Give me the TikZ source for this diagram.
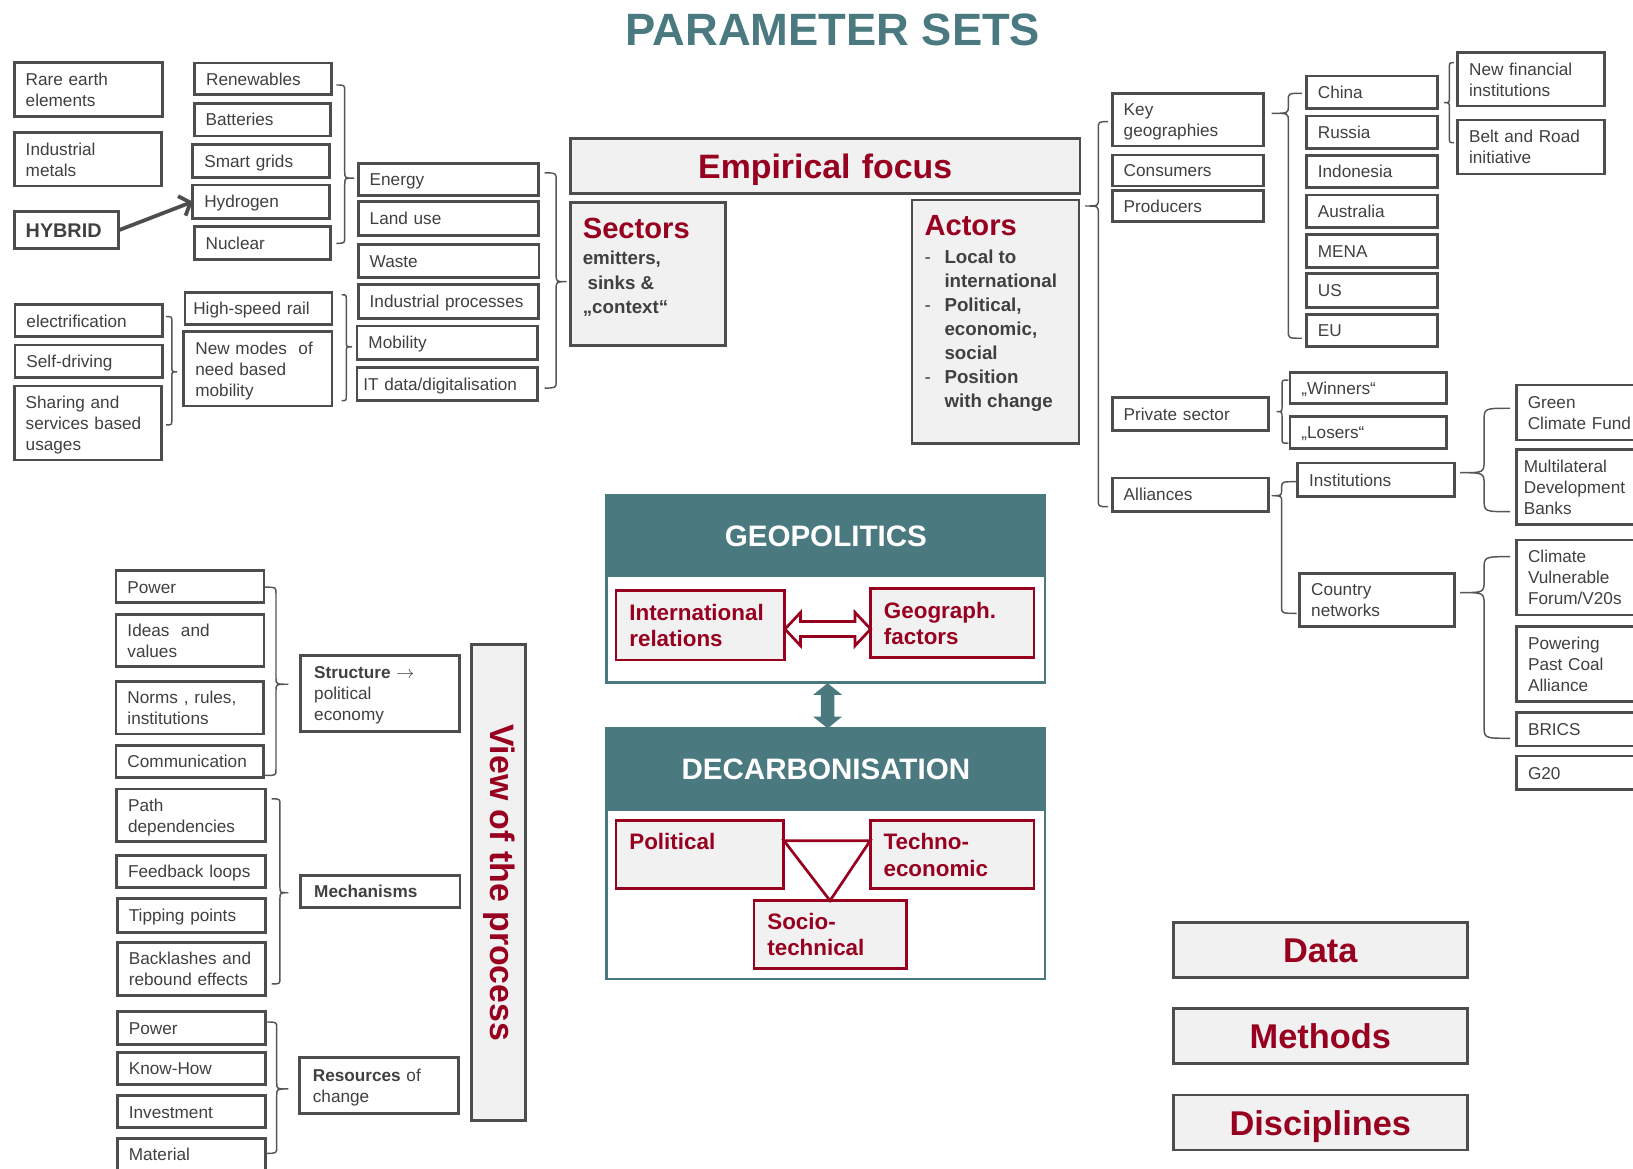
\documentclass[tikz,border=0pt]{standalone}
\usepackage{fontspec}
\setmainfont{Liberation Sans}
\usetikzlibrary{arrows.meta,calc}

\definecolor{dred}{RGB}{152,0,32}
\definecolor{tealc}{RGB}{74,121,128}
\definecolor{boxline}{RGB}{77,77,77}
\definecolor{txtc}{RGB}{64,64,64}
\definecolor{panelc}{RGB}{241,241,241}
\definecolor{bracec}{RGB}{85,85,85}

% horizontal text padding of a box
\newcommand\gbpad{11}
% fixed line height and depth, so every box places its text the same way
\newcommand\gbtop{\rule{0pt}{0.97em}}
\newcommand\gbbot{\rule[-0.24em]{0pt}{0.24em}}
% box given by its corners: [options]{name}{x1}{y1}{x2}{y2}{text}
\newcommand{\gb}[7][]{%
  \pgfmathsetmacro\gbt{#5-#3-2*\gbpad}%
  \pgfmathsetmacro\gbh{#6-#4}%
  \node[gbox,align=left,inner xsep=\gbpad pt,text width=\gbt pt,minimum height=\gbh pt,#1]
    (#2) at ({(#3+#5)/2},{(#4+#6)/2}) {\gbtop#7\gbbot};}
% curly brace: {x open ends}{x spine}{x tip}{y top}{y tip}{y bottom}{corner radius}
\newcommand{\gbrace}[7]{%
  \draw[bracel] (#1,#4) .. controls (#2,#4) .. (#2,{#4+#7}) -- (#2,{#5-#7})
    .. controls (#2,#5) .. (#3,#5) .. controls (#2,#5) .. (#2,{#5+#7})
    -- (#2,{#6-#7}) .. controls (#2,#6) .. (#1,#6);}

\begin{document}
\begin{tikzpicture}[x=1pt,y=-1pt,
  gbox/.style={rectangle,draw=boxline,line width=2.8pt,fill=white,text=txtc,
    font=\fontsize{16.5}{20.2}\selectfont,inner ysep=0pt,outer sep=0pt},
  pbox/.style={gbox,fill=panelc},
  rbox/.style={gbox,draw=dred,fill=panelc,text=dred,
    font=\bfseries\fontsize{21.5}{25.6}\selectfont},
  bigred/.style={pbox,align=center,text=dred,font=\bfseries\fontsize{33}{36}\selectfont},
  bracel/.style={draw=bracec,line width=1.4pt},
  blk/.style={rectangle,draw=tealc,line width=2.6pt,fill=white,inner sep=0pt,outer sep=0pt},
  hdr/.style={rectangle,fill=tealc,text=white,inner sep=0pt,outer sep=0pt,
    font=\bfseries\fontsize{28.4}{30}\selectfont},
  hyarrow/.style={draw=boxline,line width=3.6pt,-{Straight Barb[length=9pt,width=20pt]}},
  tri/.style={draw=dred,line width=2.6pt,line join=miter},
]
\useasboundingbox (0,0) rectangle (1568,1122);
\clip (0,0) rectangle (1568,1122);

% ---------- title ----------
\node[anchor=base,text=tealc,inner sep=0pt,font=\bfseries\fontsize{43.5}{46}\selectfont]
  (title) at (799.8,43.8) {PARAMETER SETS};

% ---------- sectors: energy, materials, mobility ----------
\gb{rare}{13.7}{60.2}{156}{112}{Rare earth\\elements}
\gb{indmet}{13.7}{127.4}{155}{178.6}{Industrial\\metals}
\gb[font=\bfseries\fontsize{19}{22}\selectfont]{hybrid}{13.7}{203.2}{113.9}{239}{HYBRID}
\gb{renew}{187}{60.5}{318.5}{91}{Renewables}
\gb{batt}{186.5}{99.2}{317}{130.6}{Batteries}
\gb{smart}{185.2}{138.6}{316.2}{170.6}{Smart grids}
\gb{hydro}{185.2}{177.6}{316.2}{209.6}{Hydrogen}
\gb{nuc}{186.5}{217.6}{317}{249}{Nuclear}

\gb{energy}{344}{157}{517}{187.5}{Energy}
\gb{land}{344}{193.6}{517}{226.3}{Land use}
\gb{waste}{344}{235.2}{517.5}{266.6}{Waste}
\gb{indproc}{344}{273.6}{517}{305.6}{Industrial processes}
\gb{mob}{342.8}{313}{516}{345}{Mobility}
\begin{scope}
  \def\gbpad{6}
  \gb{itdata}{342.8}{352.7}{516}{384.7}{IT data/digitalisation}
\end{scope}

\gb{elec}{14.4}{292.8}{156}{323.3}{electrification}
\gb{selfdr}{14.4}{331.3}{156}{362.6}{Self-driving}
\gb{sharing}{13.7}{370.6}{155.5}{441.7}{Sharing and\\services based\\usages}
\begin{scope}
  \def\gbpad{8}
  \gb{hsr}{177.6}{281}{318.8}{311.4}{High-speed rail}
\end{scope}
\gb{newmodes}{176.6}{318.5}{318.8}{389.8}{New modes~ of\\need based\\mobility}

\draw[hyarrow] (hybrid.east) -- (hydro.west);

\gbrace{323}{331}{340}{81.6}{171}{233.6}{6}
\gbrace{523}{534}{544}{166}{270.5}{372.6}{7}
\gbrace{159.5}{165}{170}{304}{357}{408}{5}
\gbrace{328}{332.5}{338}{283}{333}{384.7}{5}

% ---------- empirical focus ----------
\gb[pbox,align=center,text=dred,font=\bfseries\fontsize{32.5}{34}\selectfont]
  {empir}{547.6}{132.8}{1037}{185.6}{Empirical focus}

\node[pbox,anchor=north west,inner xsep=12pt,inner ysep=0pt,
  font=\bfseries\fontsize{18}{23.3}\selectfont] (sectors) at (547.6,194.6)
  {\parbox[c][137.4pt][t]{125.4pt}{\raggedright\leavevmode
    {\color{dred}\fontsize{28}{28}\selectfont\rule{0pt}{34.2pt}Sectors}\\[2.3pt]
    emitters,\\
    \hspace*{4.6pt}sinks \&\\
    „context“}};

\node[pbox,anchor=north west,inner xsep=12pt,inner ysep=0pt,
  font=\bfseries\fontsize{18}{23.1}\selectfont] (actors) at (875.7,192)
  {\parbox[c][233.6pt][t]{136.3pt}{\raggedright\leavevmode
    {\color{dred}\fontsize{28}{28}\selectfont\rule{0pt}{34.6pt}Actors}\\[3.1pt]
    \makebox[19.2pt][l]{\mdseries -}Local to\\
    \hspace*{19.2pt}international\\
    \makebox[19.2pt][l]{\mdseries -}Political,\\
    \hspace*{19.2pt}economic,\\
    \hspace*{19.2pt}social\\
    \makebox[19.2pt][l]{\mdseries -}Position\\
    \hspace*{19.2pt}with change}};

% ---------- actors ----------
\gb{keygeo}{1068}{89.6}{1213.6}{140.2}{Key\\geographies}
\gb{cons}{1068}{148.8}{1213.6}{178.6}{Consumers}
\gb{prod}{1068}{183}{1213.6}{212.8}{Producers}
\gb{priv}{1068}{382}{1218}{413}{Private sector}
\gb{alli}{1068}{459}{1218}{491}{Alliances}

\gb{china}{1254.4}{73}{1380.7}{104}{China}
\gb{russia}{1254.4}{111.4}{1380.7}{143}{Russia}
\gb{indo}{1254.4}{149.1}{1380.7}{180.2}{Indonesia}
\gb{austr}{1254.4}{187.2}{1380.7}{218.6}{Australia}
\gb{mena}{1254.4}{225}{1380.7}{256.7}{MENA}
\gb{us}{1254.4}{263}{1380.7}{295}{US}
\gb{eu}{1254.4}{301.8}{1380.7}{332.9}{EU}

\gb{newfin}{1399.6}{50.6}{1540.3}{101.8}{New financial\\institutions}
\gb{belt}{1399.6}{115.2}{1541}{167.1}{Belt and Road\\initiative}

\gb{winners}{1238.6}{358}{1389}{387.5}{„Winners“}
\gb{losers}{1238.6}{400}{1389}{430.5}{„Losers“}
\gb{inst}{1246}{444.6}{1397}{477}{Institutions}
\gb{cnet}{1248}{550.3}{1397}{601.7}{Country\\networks}

\gb{gcf}{1456}{369.7}{1600}{422.5}{Green\\Climate Fund}
\begin{scope}
  \def\gbpad{7}
  \gb{mdb}{1456.2}{431.4}{1600}{504}{Multilateral\\Development\\Banks}
\end{scope}
\gb{cvf}{1456.2}{518.5}{1600}{590.5}{Climate\\Vulnerable\\Forum/V20s}
\gb{ppca}{1456.2}{601.7}{1600}{673.7}{Powering\\Past Coal\\Alliance}
\gb{brics}{1456.2}{684.3}{1600}{716.3}{BRICS}
\gb{gtwenty}{1456.2}{725.9}{1600}{758.5}{G20}

\gbrace{1064}{1054.6}{1042}{116.8}{197.8}{486.5}{7}
\gbrace{1250}{1237}{1221}{89.6}{108.8}{324.8}{7}
\gbrace{1396}{1391.7}{1386.4}{60.2}{98.6}{137}{5}
\gbrace{1237}{1231}{1225.8}{364.9}{395.3}{425.6}{5}
\gbrace{1245}{1230.6}{1221}{462.5}{476}{588.9}{6}
\gbrace{1450}{1425}{1402}{392}{453.9}{491.3}{12}
\gbrace{1450}{1425}{1402}{534.5}{569}{708.9}{12}

% ---------- geopolitics / decarbonisation ----------
\node[blk,minimum width=420.9pt,minimum height=180.2pt] (geo) at (792.95,565.4) {};
\node[hdr,minimum width=420.9pt,minimum height=79pt] (geohead) at (792.95,514.8) {GEOPOLITICS};
\node[blk,minimum width=420.9pt,minimum height=240.7pt] (dec) at (792.95,819.65) {};
\node[hdr,minimum width=420.9pt,minimum height=79.1pt] (dechead) at (792.95,738.85) {DECARBONISATION};

\begin{scope}
  \def\gbpad{12.8}
  \gb[rbox]{ir}{591.5}{567}{753.7}{633.7}{International\\relations}
  \gb[rbox]{gf}{836}{565.2}{992.8}{631.5}{Geograph.\\factors}
  \gb[rbox]{pol}{591.5}{788}{752.7}{853}{Political\\\mbox{}}
  \gb[rbox]{tec}{835.6}{788}{992.8}{853}{Techno-\\economic}
  \gb[rbox]{soc}{724}{864.8}{870}{929.7}{Socio-\\technical}
\end{scope}

% hollow double arrow between the two geopolitics boxes
\coordinate (a1) at ($(ir.east)+(0,3.7)$);
\coordinate (a2) at (gf.west |- a1);
\draw[draw=dred,fill=white,line width=2.6pt,line join=miter]
  (a1) -- ($(a1)+(15,-16)$) -- ($(a1)+(15,-7.2)$) -- ($(a2)+(-15,-7.2)$)
  -- ($(a2)+(-15,-16)$) -- (a2) -- ($(a2)+(-15,16)$) -- ($(a2)+(-15,7.2)$)
  -- ($(a1)+(15,7.2)$) -- ($(a1)+(15,16)$) -- cycle;

% solid double arrow between the two blocks
\coordinate (b1) at ($(geo.south)+(1.7,0.5)$);
\coordinate (b2) at ($(dec.north)+(1.7,0)$);
\fill[tealc] (b1) -- ($(b1)+(13.9,11.2)$) -- ($(b1)+(6.4,11.2)$) -- ($(b2)+(6.4,-11.2)$)
  -- ($(b2)+(13.9,-11.2)$) -- (b2) -- ($(b2)+(-13.9,-11.2)$) -- ($(b2)+(-6.4,-11.2)$)
  -- ($(b1)+(-6.4,11.2)$) -- ($(b1)+(-13.9,11.2)$) -- cycle;

% triangle linking the three decarbonisation dimensions
\coordinate (t1) at ($(pol.east)+(0,-13.3)$);
\coordinate (t2) at (tec.west |- t1);
\draw[tri] (t1) -- (t2) -- (soc.north) -- cycle;

% ---------- view of the process ----------
\gb{pow1}{111.4}{548.2}{253.5}{578.7}{Power}
\gb{ideas}{111.4}{590}{253.5}{640.2}{Ideas~ and\\values}
\gb{norms}{111.4}{654}{253}{704.8}{Norms , rules,\\institutions}
\gb{comm}{111.4}{716}{253}{746.5}{Communication}
\gb{pathdep}{112}{757.6}{254.5}{808}{Path\\dependencies}
\gb{feed}{112}{821}{254.5}{852}{Feedback loops}
\gb{tipping}{112.7}{863}{255}{895}{Tipping points}
\gb{back}{112.7}{905}{255}{956}{Backlashes and\\rebound effects}
\gb{pow2}{112.7}{971.4}{254.5}{1003}{Power}
\gb{know}{112.7}{1010.5}{254.5}{1041}{Know-How}
\gb{invest}{112.7}{1052.3}{254.5}{1083}{Investment}
\gb{material}{112.7}{1093}{254.5}{1124}{Material}

\begin{scope}
  \def\gbpad{13}
  \gb{struct}{288.7}{629}{441}{702.6}{\textbf{Structure $\rightarrow$}\\political\\economy}
  \gb[font=\bfseries\fontsize{16.5}{20.2}\selectfont]{mech}{288.7}{840.4}{441.7}{871.4}{Mechanisms}
  \gb{res}{287.4}{1015.7}{440}{1069}{\textbf{Resources} of\\change}
\end{scope}

\gbrace{254.5}{265}{276.8}{563.8}{657}{744.6}{6}
\gbrace{260.8}{268.8}{276.8}{767}{857.2}{944.8}{6}
\gbrace{255.4}{265.7}{276.8}{981.3}{1045.6}{1107.4}{6}

\node[pbox,rotate=-90,minimum width=457pt,minimum height=52.1pt,inner sep=0pt,
  text=dred,font=\bfseries\fontsize{32.5}{34}\selectfont] (view) at (478.95,847.5)
  {View of the process};

% ---------- data, methods, disciplines ----------
\gb[bigred]{data}{1126.6}{886}{1408.9}{938.7}{Data}
\gb[bigred]{methods}{1126.6}{968}{1408.9}{1021}{Methods}
\gb[bigred]{disc}{1126.6}{1051.4}{1408.9}{1104.2}{Disciplines}

\end{tikzpicture}
\end{document}
